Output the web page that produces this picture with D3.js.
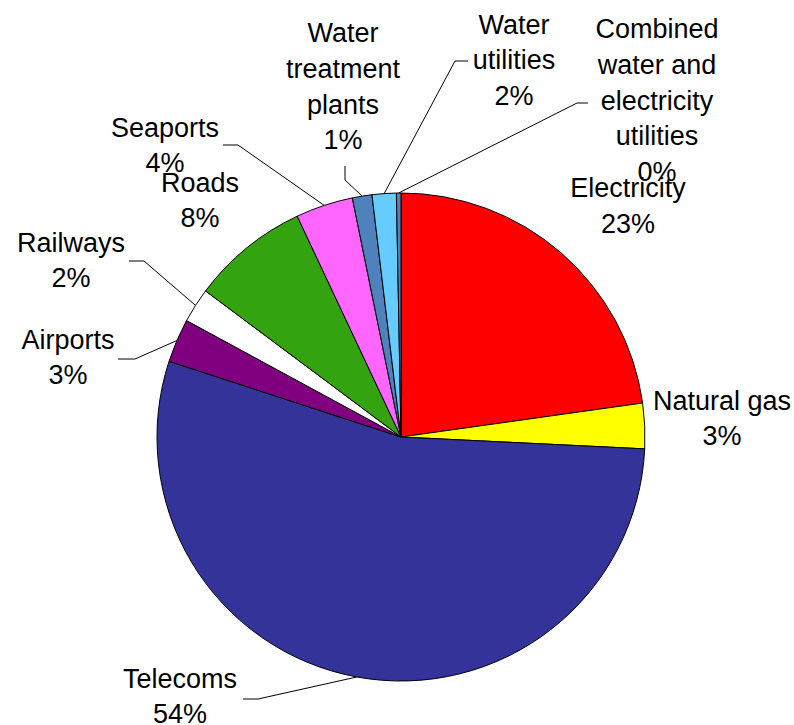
<!DOCTYPE html>
<html>
<head>
<meta charset="utf-8">
<script src="https://cdn.jsdelivr.net/npm/d3@7"></script>
<style>
  html, body { margin: 0; padding: 0; background: #fff; }
  svg { display: block; }
  text { font-family: "Liberation Sans", Arial, sans-serif; fill: #000; }
</style>
</head>
<body>
<svg id="chart" width="794" height="725"></svg>
<script>
// ---- data ----
const categories = ["Electricity", "Natural gas", "Telecoms", "Airports", "Railways",
  "Roads", "Seaports", "Water treatment plants", "Water utilities",
  "Combined water and electricity utilities"];
const values = [22.8, 3.0, 54.3, 2.9, 2.3, 7.8, 3.8, 1.3, 1.6, 0.3];
const labelLines = [
  ["Electricity"], ["Natural gas"], ["Telecoms"], ["Airports"], ["Railways"],
  ["Roads"], ["Seaports"], ["Water", "treatment", "plants"], ["Water", "utilities"],
  ["Combined", "water and", "electricity", "utilities"]
];
const colors = ["#FF0000", "#FFFF00", "#333399", "#800080", "#FFFFFF",
  "#33A30F", "#FF66FF", "#4F81BD", "#66CCFF", "#4F81BD"];

// ---- layout (label placement) ----
const labelPos = [
  {x: 628, y: 187.5}, {x: 722, y: 400}, {x: 180, y: 678}, {x: 68, y: 339},
  {x: 71, y: 242}, {x: 200, y: 182}, {x: 165, y: 127}, {x: 343, y: 32.5},
  {x: 514, y: 24}, {x: 657, y: 28.5}
];
const leaders = [
  null, null,
  [[243, 699], [258, 699]],
  [[118, 359], [135, 359]],
  [[129, 261], [144, 261]],
  null,
  [[223, 145], [238, 145]],
  [[345, 166], [345, 180]],
  [[468, 61], [455, 61]],
  [[588, 103], [577, 103]]
];

const cx = 401, cy = 437, R = 244;
const fontSize = 27, lineH = 35.8;

const svg = d3.select("#chart");
const total = d3.sum(values);
const data = categories.map((c, i) => ({cat: c, value: values[i], i}));

const pie = d3.pie().sort(null).value(d => d.value);
const arcs = pie(data);
const arc = d3.arc().innerRadius(0).outerRadius(R);

const g = svg.append("g").attr("transform", `translate(${cx},${cy})`);
g.selectAll("path.slice").data(arcs).enter().append("path")
  .attr("class", "slice")
  .attr("d", arc)
  .attr("fill", d => colors[d.data.i])
  .attr("stroke", "#000")
  .attr("stroke-width", 1)
  .attr("stroke-linejoin", "round");

// leader lines
arcs.forEach(a => {
  const L = leaders[a.data.i];
  if (!L) return;
  const mid = (a.startAngle + a.endAngle) / 2;
  const ex = cx + Math.sin(mid) * R, ey = cy - Math.cos(mid) * R;
  const pts = L.concat([[ex, ey]]);
  svg.append("path")
    .attr("d", d3.line()(pts))
    .attr("fill", "none")
    .attr("stroke", "#000")
    .attr("stroke-width", 1);
});

// labels
arcs.forEach(a => {
  const i = a.data.i;
  const pct = Math.round(a.data.value / total * 100) + "%";
  const lines = labelLines[i].concat([pct]);
  const p = labelPos[i];
  const t = svg.append("text")
    .attr("text-anchor", "middle")
    .attr("font-size", fontSize);
  lines.forEach((ln, k) => {
    t.append("tspan")
      .attr("x", p.x)
      .attr("y", p.y + k * lineH + 9.5)
      .text(ln);
  });
});
</script>
</body>
</html>
